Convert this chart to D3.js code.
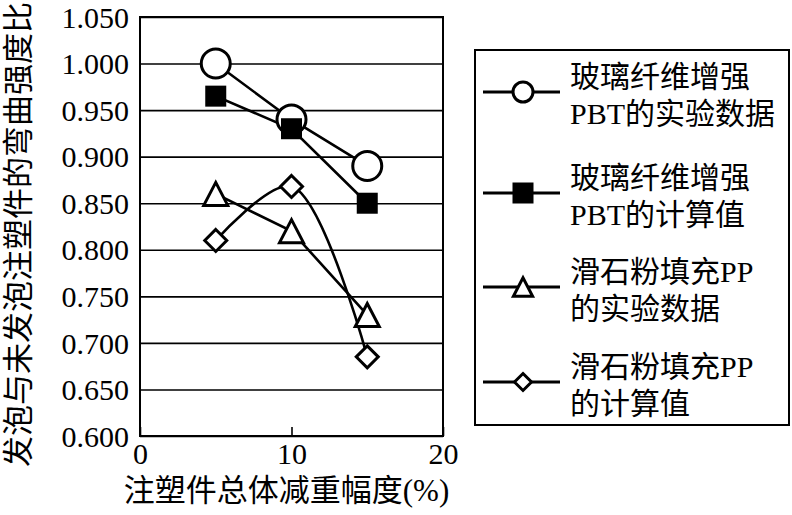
<!DOCTYPE html>
<html>
<head>
<meta charset="utf-8">
<script src="https://cdn.jsdelivr.net/npm/d3@7"></script>
<style>
  body { margin: 0; background: #fff; }
</style>
</head>
<body>
<div id="chart"></div>
<script>
// data
var xValues = [5, 10, 15];
var pbtTest = [1.000, 0.940, 0.890];
var pbtCalc = [0.965, 0.930, 0.850];
var ppTest = [0.860, 0.820, 0.730];
var ppCalc = [0.810, 0.868, 0.685];
var yTicks = [0.600, 0.650, 0.700, 0.750, 0.800, 0.850, 0.900, 0.950, 1.000, 1.050];
var xTicks = [0, 10, 20];
var legendLabels = [
  ["玻璃纤维增强", "PBT的实验数据"],
  ["玻璃纤维增强", "PBT的计算值"],
  ["滑石粉填充PP", "的实验数据"],
  ["滑石粉填充PP", "的计算值"]
];
var yTitle = "发泡与未发泡注塑件的弯曲强度比";
var xTitle = "注塑件总体减重幅度(%)";

var FONT = '"Liberation Serif", "Noto Sans CJK SC", serif';

var svgWidth = 792;
var svgHeight = 515;

var margin = { top: 17, right: 349, bottom: 79, left: 140 };
var chartWidth = svgWidth - margin.left - margin.right;
var chartHeight = svgHeight - margin.top - margin.bottom;

var svg = d3.select("#chart")
  .append("svg")
  .attr("width", svgWidth)
  .attr("height", svgHeight)
  .style("font-family", FONT);

var chartGroup = svg.append("g")
  .attr("transform", `translate(${margin.left}, ${margin.top})`);

var xScale = d3.scaleLinear().domain([0, 20]).range([0, chartWidth]);
var yScale = d3.scaleLinear().domain([0.6, 1.05]).range([chartHeight, 0]);

// y axis with gridlines
var leftAxis = d3.axisLeft(yScale)
  .tickValues(yTicks)
  .tickSize(-chartWidth)
  .tickPadding(11)
  .tickFormat(d3.format(".3f"));

var yAxisG = chartGroup.append("g").call(leftAxis);
yAxisG.select(".domain").remove();
yAxisG.selectAll("line").attr("stroke", "#000").attr("stroke-width", 1.6);
yAxisG.selectAll("text")
  .style("font-family", FONT)
  .attr("fill", "#000")
  .attr("font-size", 30)
  .attr("dy", "0.34em");

// x axis, small inward ticks
var bottomAxis = d3.axisBottom(xScale)
  .tickValues(xTicks)
  .tickSizeInner(-9)
  .tickSizeOuter(0)
  .tickPadding(5);

var xAxisG = chartGroup.append("g")
  .attr("transform", `translate(0, ${chartHeight})`)
  .call(bottomAxis);
xAxisG.select(".domain").remove();
xAxisG.selectAll("line").attr("stroke", "#000").attr("stroke-width", 1.6);
xAxisG.selectAll("text")
  .style("font-family", FONT)
  .attr("fill", "#000")
  .attr("font-size", 30)
  .attr("dy", "0.75em");

// frame
chartGroup.append("rect")
  .attr("x", 0).attr("y", 0)
  .attr("width", chartWidth).attr("height", chartHeight)
  .attr("fill", "none")
  .attr("stroke", "#000")
  .attr("stroke-width", 2);

function pts(vals) {
  return xValues.map((x, i) => [x, vals[i]]);
}

var line = d3.line()
  .x(d => xScale(d[0]))
  .y(d => yScale(d[1]));

var smoothLine = d3.line()
  .x(d => xScale(d[0]))
  .y(d => yScale(d[1]))
  .curve(d3.curveCatmullRom.alpha(0.5));

var series = [
  { vals: pbtTest, shape: "circle", gen: line },
  { vals: pbtCalc, shape: "square", gen: line },
  { vals: ppTest, shape: "triangle", gen: line },
  { vals: ppCalc, shape: "diamond", gen: smoothLine }
];

series.forEach(s => {
  chartGroup.append("path")
    .datum(pts(s.vals))
    .attr("d", s.gen)
    .attr("fill", "none")
    .attr("stroke", "#000")
    .attr("stroke-width", 2.6);
});

function drawMarker(g, shape, cx, cy, big) {
  var k = big ? 1 : 0.8;
  if (shape === "circle") {
    g.append("circle").attr("cx", cx).attr("cy", cy).attr("r", (big ? 14.5 : 10))
      .attr("fill", "#fff").attr("stroke", "#000").attr("stroke-width", 3);
  } else if (shape === "square") {
    var s = 21;
    g.append("rect").attr("x", cx - s / 2).attr("y", cy - s / 2)
      .attr("width", s).attr("height", s).attr("fill", "#000");
  } else if (shape === "triangle") {
    var h = 23 * k, w = 24 * k;
    g.append("path")
      .attr("d", `M${cx},${cy - h / 2}L${cx + w / 2},${cy + h / 2}L${cx - w / 2},${cy + h / 2}Z`)
      .attr("fill", "#fff").attr("stroke", "#000").attr("stroke-width", 3);
  } else {
    var r = (big ? 11 : 8.5);
    g.append("path")
      .attr("d", `M${cx},${cy - r}L${cx + r},${cy}L${cx},${cy + r}L${cx - r},${cy}Z`)
      .attr("fill", "#fff").attr("stroke", "#000").attr("stroke-width", 3);
  }
}

series.forEach(s => {
  pts(s.vals).forEach(d => drawMarker(chartGroup, s.shape, xScale(d[0]), yScale(d[1]), true));
});

// axis titles
svg.append("text")
  .attr("transform", `translate(29, ${margin.top + chartHeight / 2 + 8}) rotate(-90)`)
  .attr("text-anchor", "middle")
  .attr("font-size", 31)
  .text(yTitle);

svg.append("text")
  .attr("x", margin.left + chartWidth / 2 - 5)
  .attr("y", 501)
  .attr("text-anchor", "middle")
  .attr("font-size", 31)
  .text(xTitle);

// legend
var legend = svg.append("g");
legend.append("rect")
  .attr("x", 475).attr("y", 50)
  .attr("width", 314).attr("height", 375)
  .attr("fill", "#fff")
  .attr("stroke", "#000")
  .attr("stroke-width", 2);

var legendY = [92, 193, 287, 382];
series.forEach((s, i) => {
  var ly = legendY[i];
  legend.append("line")
    .attr("x1", 483).attr("x2", 560)
    .attr("y1", ly).attr("y2", ly)
    .attr("stroke", "#000").attr("stroke-width", 3);
  drawMarker(legend, s.shape, 523, ly, false);
  var t = legend.append("text")
    .attr("x", 570)
    .attr("font-size", 30);
  t.append("tspan").attr("x", 570).attr("y", ly - 5).text(legendLabels[i][0]);
  t.append("tspan").attr("x", 570).attr("y", ly + 32).text(legendLabels[i][1]);
});
</script>
</body>
</html>
